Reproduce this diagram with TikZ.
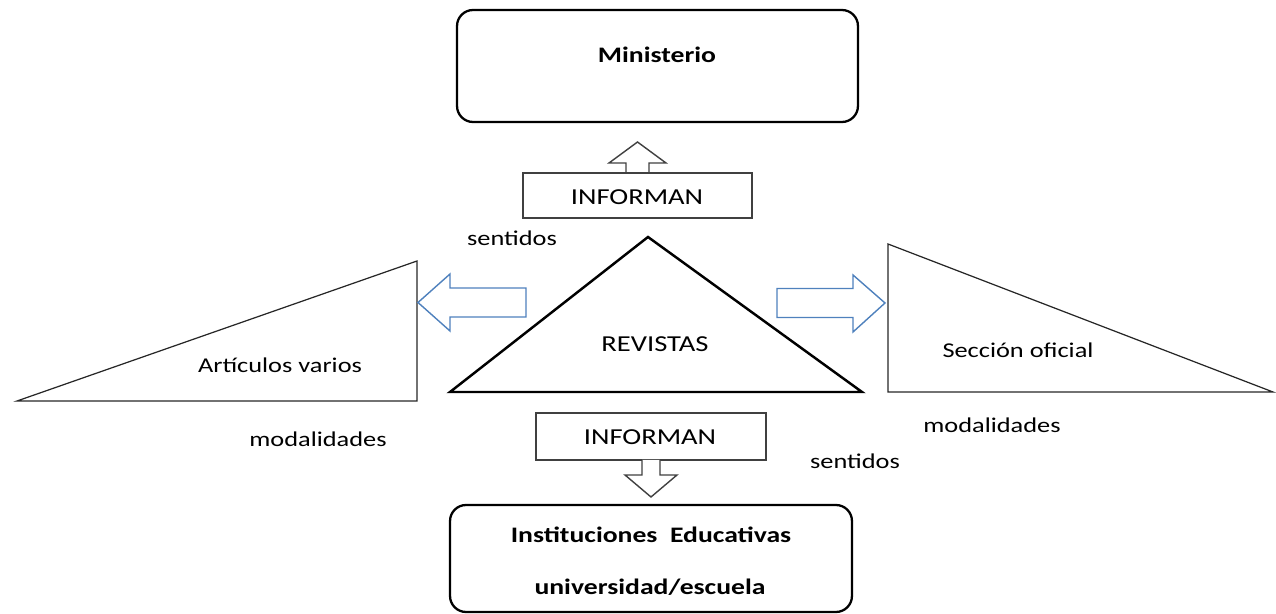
\documentclass[tikz,border=0pt]{standalone}
\usepackage{fontspec}
\setmainfont{Carlito}[FakeStretch=1.25]
\definecolor{arrowblue}{RGB}{79,129,189}
\definecolor{boxgray}{RGB}{64,64,64}
\tikzset{
  txt/.style={inner sep=0pt, anchor=base, font=\fontsize{12}{14}\selectfont},
  bigtxt/.style={inner sep=0pt, anchor=base, font=\fontsize{13}{15}\selectfont},
  boldtxt/.style={inner sep=0pt, anchor=base, font=\fontsize{12.6}{14}\selectfont\bfseries},
  roundbox/.style={draw=black, line width=1.3pt, rounded corners=0.32cm, inner sep=0pt},
  infobox/.style={draw=boxgray, line width=0.8pt, inner sep=0pt, fill=white},
  blockarrow/.style={draw=boxgray, line width=0.8pt, fill=white, line join=miter},
  bluearrow/.style={draw=arrowblue, line width=0.8pt, fill=white, line join=miter},
  thintri/.style={draw=black!85, line width=0.7pt},
  thicktri/.style={draw=black, line width=1.4pt, line join=miter}
}
\begin{document}
\begin{tikzpicture}[x=0.02cm, y=-0.02cm]
\useasboundingbox (0,0) rectangle (1276,614);

% Ministerio
\node[roundbox, minimum width=8.02cm, minimum height=2.24cm] (mbox) at (657.5,66) {};
\node[boldtxt] (mtext) at (657,63) {Ministerio};

% up block arrow
\draw[blockarrow] (626,173) -- (626,163) -- (609,163) -- (637.5,142) -- (666,163) -- (649,163) -- (649,173);
\node[infobox, minimum width=4.58cm, minimum height=0.9cm] (inftop) at (637.5,195.5) {};
\node[bigtxt] (inftoptext) at (637,205) {INFORMAN};

\node[txt] (sent1) at (512,246) {sentidos};

% central triangle
\draw[thicktri] (648,237) -- (862,392) -- (450,392) -- cycle;
\node[bigtxt] (rev) at (655,352) {REVISTAS};

% left triangle
\draw[thintri] (17,401) -- (417,261) -- (417,401) -- cycle;
\node[txt] (art) at (280,373) {Artículos varios};

% right triangle
\draw[thintri] (888,244) -- (888,392) -- (1273,392) -- cycle;
\node[txt] (secc) at (1018,358) {Sección oficial};

% blue arrows
\draw[bluearrow] (526,288) -- (450,288) -- (450,274) -- (418,302.5) -- (450,331) -- (450,317) -- (526,317) -- cycle;
\draw[bluearrow] (777,288.5) -- (853,288.5) -- (853,275) -- (885,303) -- (853,332) -- (853,317.5) -- (777,317.5) -- cycle;

\node[txt] (mod1) at (318,447) {modalidades};
\node[txt] (mod2) at (992,433) {modalidades};
\node[txt] (sent2) at (855,469) {sentidos};

% bottom informan
\node[infobox, minimum width=4.6cm, minimum height=0.94cm] (infbot) at (651,436.5) {};
\node[bigtxt] (infbottext) at (650,445) {INFORMAN};
\draw[blockarrow] (642,460) -- (642,475) -- (625,475) -- (651,497) -- (677,475) -- (660,475) -- (660,460);

% Instituciones
\node[roundbox, minimum width=8.04cm, minimum height=2.14cm] (ibox) at (651,558.5) {};
\node[boldtxt] (itext1) at (651,543) {Instituciones\ \ Educativas};
\node[boldtxt] (itext2) at (650,595) {universidad/escuela};
\end{tikzpicture}
\end{document}
